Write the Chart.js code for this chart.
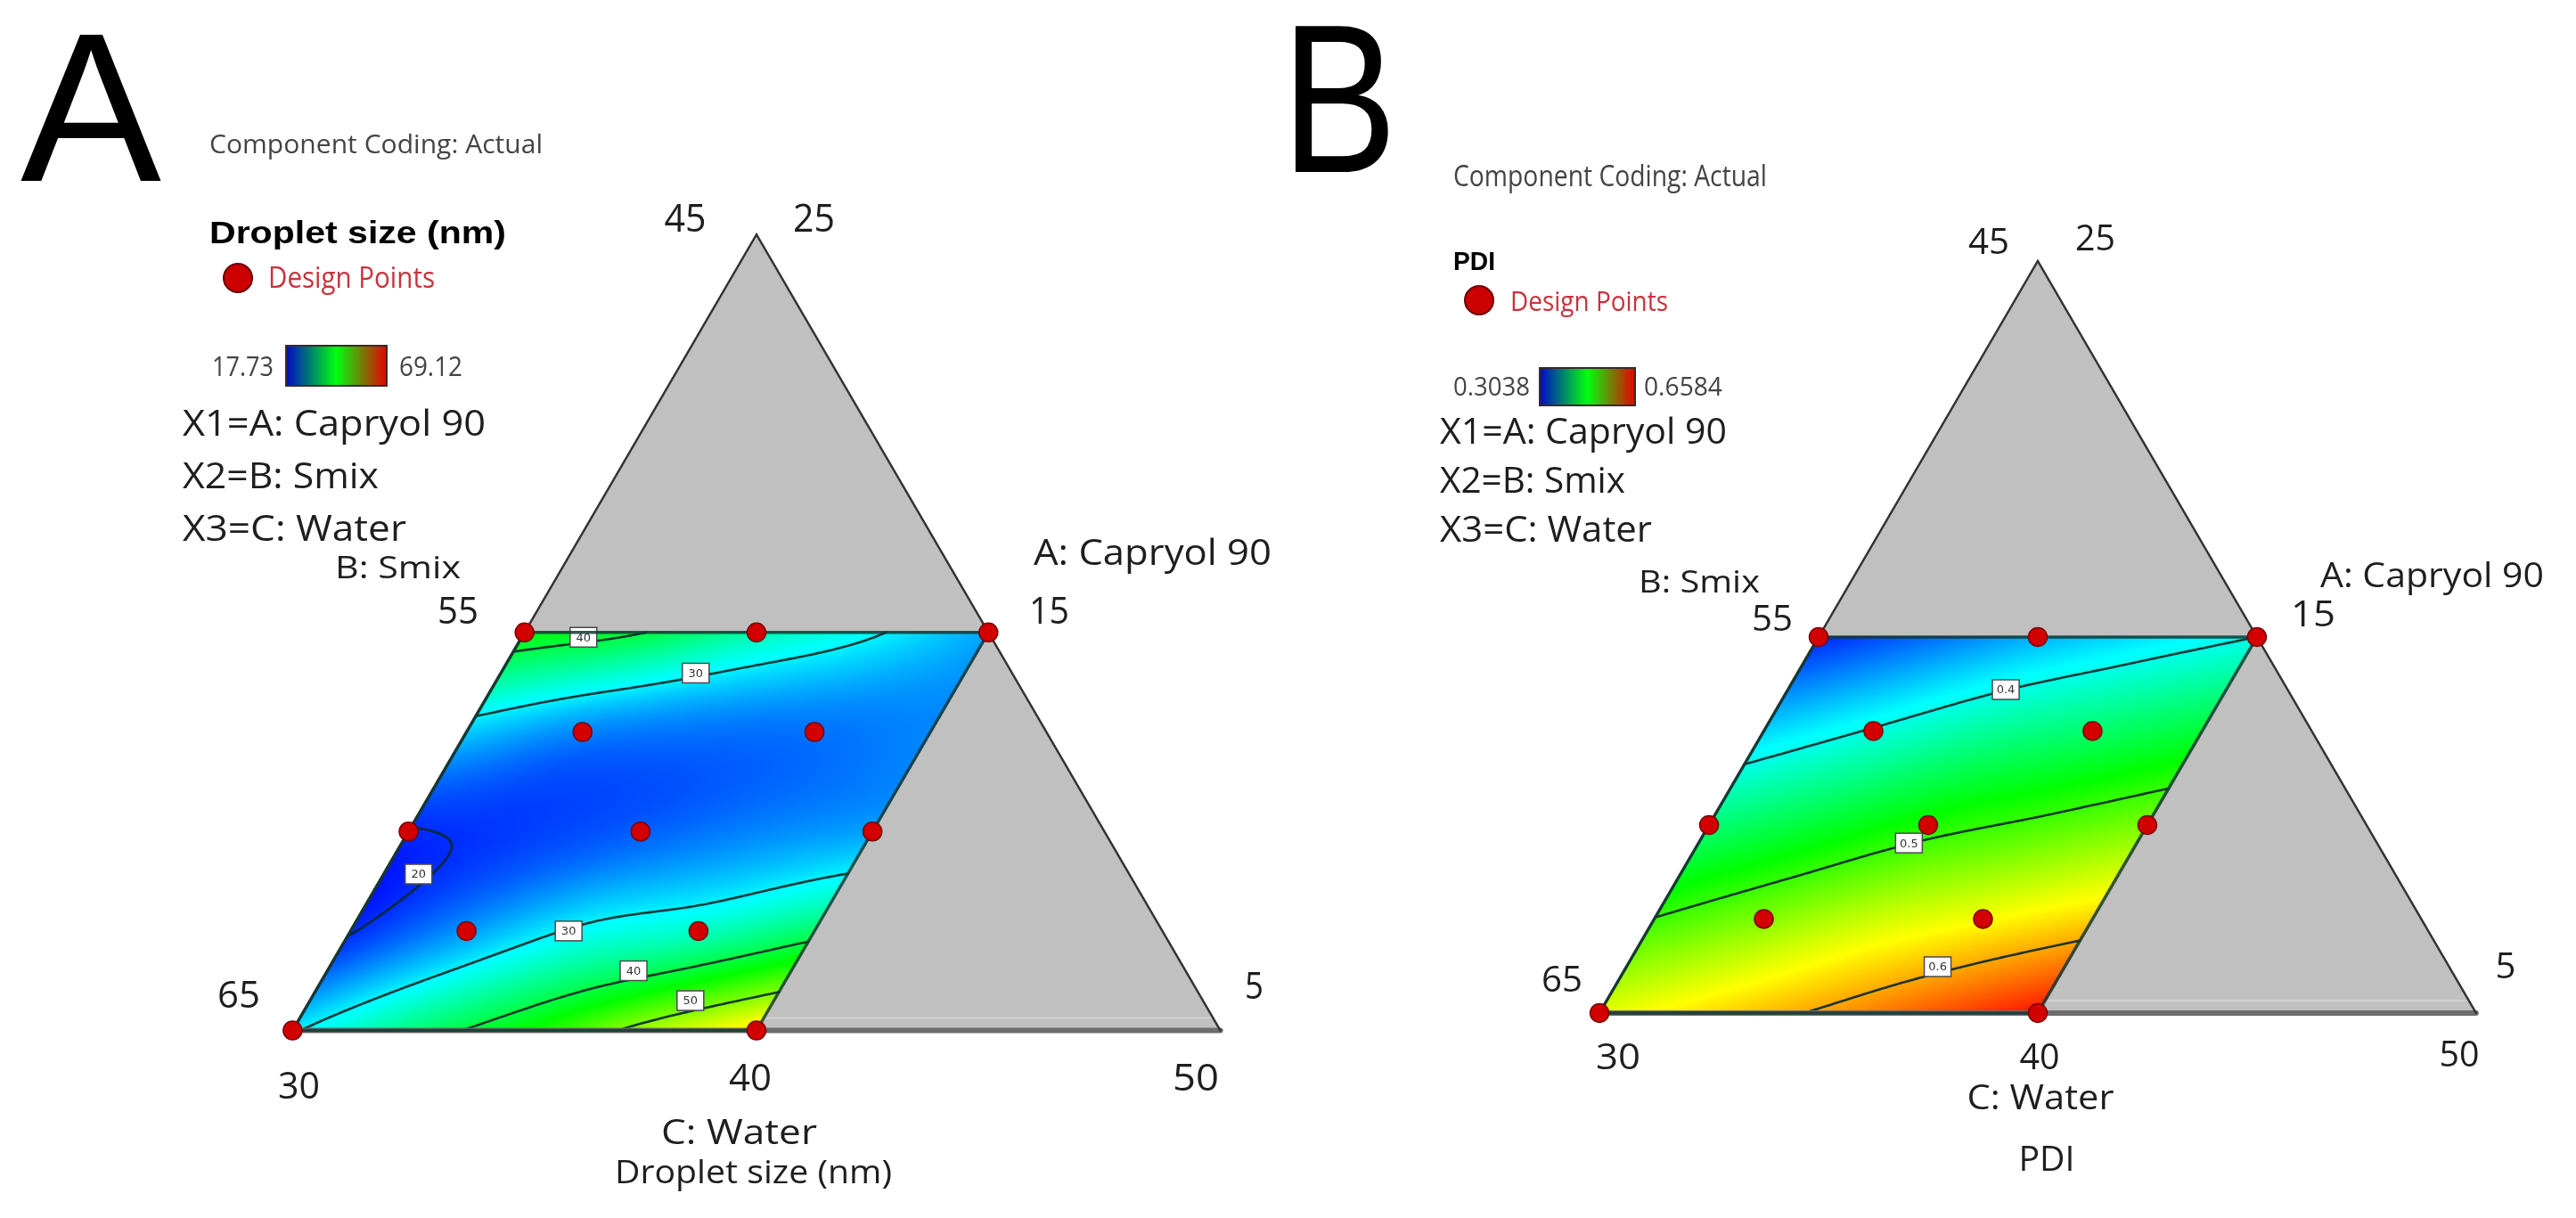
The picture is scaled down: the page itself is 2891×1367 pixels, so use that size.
<!DOCTYPE html>
<html>
<head>
<meta charset="utf-8">
<script src="https://cdn.jsdelivr.net/npm/chart.js@4.4.1/dist/chart.umd.min.js"></script>
<style>
html, body { margin: 0; padding: 0; background: #fff; }
#wrap { position: relative; width: 2891px; height: 1367px; overflow: hidden; background: #fff; }
#wrap canvas { position: absolute; left: 0; top: 0; }
#txt { position: absolute; left: 0; top: 0; }
</style>
</head>
<body>
<div id="wrap">
  <canvas id="chartA" width="2891" height="1367"></canvas>
  <canvas id="chartB" width="2891" height="1367"></canvas>
  <svg id="txt" width="2891" height="1367" xmlns="http://www.w3.org/2000/svg"></svg>
</div>
<script>
// design points (component amounts, %); B: Smix = 100 - A - C
const designCapryol = [15, 15, 15, 12.5, 12.5, 10, 10, 10, 7.5, 7.5, 5, 5];
const designWater   = [30, 35, 40, 32.5, 37.5, 30, 35, 40, 32.5, 37.5, 30, 40];

// response surfaces, rows = A: Capryol 90, cols = C: Water
const gridCapryol = [5, 7.5, 10, 12.5, 15];
const gridWater   = [30, 32.5, 35, 37.5, 40];
const dropletSize = [
    [29.5, 37.0, 43.5, 51.5, 58.0],
    [19.7, 25.5, 30.8, 33.5, 38.2],
    [19.8, 20.8, 22.5, 24.5, 26.0],
    [28.0, 24.5, 23.5, 23.5, 24.5],
    [43.0, 40.2, 34.5, 30.5, 26.0]
];
const pdi = [
    [0.560, 0.582, 0.603, 0.628, 0.652],
    [0.501, 0.526, 0.551, 0.568, 0.585],
    [0.440, 0.464, 0.489, 0.506, 0.524],
    [0.378, 0.4025, 0.427, 0.444, 0.462],
    [0.316, 0.341, 0.365, 0.383, 0.400]
];

// contour levels and where their labels sit (A, C)
const dropletLevels = [20, 30, 40, 50];
const dropletLabels = [
    { A: 14.88, C: 31.33, text: "40" },
    { A: 13.98, C: 34.2, text: "30" },
    { A: 8.93, C: 30.75, text: "20" },
    { A: 7.5, C: 34.7, text: "30" },
    { A: 6.5, C: 36.6, text: "40" },
    { A: 5.75, C: 38.2, text: "50" }
];
const pdiLevels = [0.4, 0.5, 0.6];
const pdiLabels = [
    { A: 13.6, C: 34.97, text: "0.4" },
    { A: 9.52, C: 34.8, text: "0.5" },
    { A: 6.23, C: 37.1, text: "0.6" }
];

const dropletRange = [17.73, 69.12];
const pdiRange = [0.3038, 0.6584];

// axis ticks
const capryolTicks = [25, 15, 5];
const smixTicks = [45, 55, 65];
const waterTicks = [30, 40, 50];

const W = 2891, H = 1367;
const SQ3 = Math.sqrt(3) / 2;

function toXY(A, C) {
    return { x: (C - 30) + (A - 5) / 2, y: (A - 5) * SQ3 };
}

function cubic(p0, p1, p2, p3, t) {
    return p1 + 0.5 * t * (p2 - p0 + t * (2 * p0 - 5 * p1 + 4 * p2 - p3 + t * (3 * (p1 - p2) + p3 - p0)));
}

function at(g, i, j) {
    const n = g.length, m = g[0].length;
    if (i < 0) return 2 * at(g, 0, j) - at(g, 1, j);
    if (i > n - 1) return 2 * at(g, n - 1, j) - at(g, n - 2, j);
    if (j < 0) return 2 * g[i][0] - g[i][1];
    if (j > m - 1) return 2 * g[i][m - 1] - g[i][m - 2];
    return g[i][j];
}

function sample(g, A, C) {
    const fi = (A - gridCapryol[0]) / (gridCapryol[1] - gridCapryol[0]);
    const fj = (C - gridWater[0]) / (gridWater[1] - gridWater[0]);
    const i = Math.max(0, Math.min(g.length - 2, Math.floor(fi)));
    const j = Math.max(0, Math.min(g[0].length - 2, Math.floor(fj)));
    const ti = fi - i, tj = fj - j;
    const r = [];
    for (let di = -1; di <= 2; di++) {
        r.push(cubic(at(g, i + di, j - 1), at(g, i + di, j), at(g, i + di, j + 1), at(g, i + di, j + 2), tj));
    }
    return cubic(r[0], r[1], r[2], r[3], ti);
}

const rampStops = [[0, 0, 255], [0, 255, 255], [0, 255, 0], [255, 255, 0], [255, 0, 0]];
function ramp(t) {
    t = Math.max(0, Math.min(1, t));
    const s = t * 4;
    const k = Math.min(3, Math.floor(s));
    const f = s - k;
    const a = rampStops[k], b = rampStops[k + 1];
    return [a[0] + (b[0] - a[0]) * f, a[1] + (b[1] - a[1]) * f, a[2] + (b[2] - a[2]) * f];
}

function ternaryPlugin(grid, range, levels, labels) {
    return {
        id: "ternary",
        beforeDatasetsDraw(chart) {
            const ctx = chart.ctx;
            const xs = chart.scales.x, ys = chart.scales.y;
            const P = (A, C) => {
                const p = toXY(A, C);
                return [xs.getPixelForValue(p.x), ys.getPixelForValue(p.y)];
            };
            const bl = P(5, 30), br = P(5, 50), top = P(25, 30);
            const q = [P(5, 30), P(5, 40), P(15, 40), P(15, 30)];

            ctx.save();
            // grey simplex
            ctx.beginPath();
            ctx.moveTo(bl[0], bl[1]);
            ctx.lineTo(br[0], br[1]);
            ctx.lineTo(top[0], top[1]);
            ctx.closePath();
            ctx.fillStyle = "#c0c0c0";
            ctx.fill();

            // faint line just above the base
            ctx.beginPath();
            ctx.moveTo(bl[0] + 10, bl[1] - 14);
            ctx.lineTo(br[0] - 10, br[1] - 14);
            ctx.strokeStyle = "#d0d0d0";
            ctx.lineWidth = 2;
            ctx.stroke();

            // colour surface in the constrained region
            const px = q.map(p => p[0]), py = q.map(p => p[1]);
            const x0 = Math.floor(Math.min(...px)) - 1, x1 = Math.ceil(Math.max(...px)) + 1;
            const y0 = Math.floor(Math.min(...py)) - 1, y1 = Math.ceil(Math.max(...py)) + 1;
            const w = x1 - x0, h = y1 - y0;
            const img = ctx.createImageData(w, h);
            for (let yy = 0; yy < h; yy++) {
                const yv = ys.getValueForPixel(y0 + yy + 0.5);
                const A = 5 + yv / SQ3;
                if (A < 4.98 || A > 15.02) continue;
                for (let xx = 0; xx < w; xx++) {
                    const xv = xs.getValueForPixel(x0 + xx + 0.5);
                    const C = 30 + xv - (A - 5) / 2;
                    if (C < 29.97 || C > 40.03) continue;
                    const v = sample(grid, Math.min(15, Math.max(5, A)), Math.min(40, Math.max(30, C)));
                    const c = ramp((v - range[0]) / (range[1] - range[0]));
                    const o = (yy * w + xx) * 4;
                    img.data[o] = c[0];
                    img.data[o + 1] = c[1];
                    img.data[o + 2] = c[2];
                    img.data[o + 3] = 255;
                }
            }
            const off = document.createElement("canvas");
            off.width = w;
            off.height = h;
            off.getContext("2d").putImageData(img, 0, 0);
            ctx.drawImage(off, x0, y0);

            // contour lines (marching squares)
            const N = 160;
            const vals = [];
            for (let i = 0; i <= N; i++) {
                const row = [];
                for (let j = 0; j <= N; j++) row.push(sample(grid, 5 + 10 * i / N, 30 + 10 * j / N));
                vals.push(row);
            }
            ctx.strokeStyle = "rgba(12,40,40,0.92)";
            ctx.lineWidth = 2.6;
            ctx.lineCap = "round";
            levels.forEach(L => {
                ctx.beginPath();
                for (let i = 0; i < N; i++) {
                    for (let j = 0; j < N; j++) {
                        const c = [
                            [i, j, vals[i][j]],
                            [i, j + 1, vals[i][j + 1]],
                            [i + 1, j + 1, vals[i + 1][j + 1]],
                            [i + 1, j, vals[i + 1][j]]
                        ];
                        const pts = [];
                        for (let e = 0; e < 4; e++) {
                            const a = c[e], b = c[(e + 1) % 4];
                            if ((a[2] - L) * (b[2] - L) < 0) {
                                const t = (L - a[2]) / (b[2] - a[2]);
                                const ii = a[0] + (b[0] - a[0]) * t, jj = a[1] + (b[1] - a[1]) * t;
                                pts.push(P(5 + 10 * ii / N, 30 + 10 * jj / N));
                            }
                        }
                        for (let k = 0; k + 1 < pts.length; k += 2) {
                            ctx.moveTo(pts[k][0], pts[k][1]);
                            ctx.lineTo(pts[k + 1][0], pts[k + 1][1]);
                        }
                    }
                }
                ctx.stroke();
            });

            // contour labels
            labels.forEach(lb => {
                const p = P(lb.A, lb.C);
                ctx.fillStyle = "#ffffff";
                ctx.fillRect(p[0] - 15, p[1] - 11, 30, 22);
                ctx.strokeStyle = "#4a4a4a";
                ctx.lineWidth = 1.5;
                ctx.strokeRect(p[0] - 15, p[1] - 11, 30, 22);
                ctx.fillStyle = "#333";
                ctx.font = "13px 'DejaVu Sans'";
                ctx.textAlign = "center";
                ctx.textBaseline = "middle";
                ctx.fillText(lb.text, p[0], p[1] + 1);
            });

            // base line, triangle sides, region outline
            ctx.beginPath();
            ctx.moveTo(bl[0], bl[1]);
            ctx.lineTo(br[0], br[1]);
            ctx.strokeStyle = "#6c6c6c";
            ctx.lineWidth = 6;
            ctx.stroke();

            ctx.beginPath();
            ctx.moveTo(bl[0], bl[1]);
            ctx.lineTo(top[0], top[1]);
            ctx.lineTo(br[0], br[1]);
            ctx.strokeStyle = "#333333";
            ctx.lineWidth = 2.5;
            ctx.lineJoin = "miter";
            ctx.stroke();

            ctx.beginPath();
            ctx.moveTo(q[0][0], q[0][1]);
            for (let k = 1; k < 4; k++) ctx.lineTo(q[k][0], q[k][1]);
            ctx.closePath();
            ctx.strokeStyle = "rgba(20,55,50,0.85)";
            ctx.lineWidth = 3.5;
            ctx.stroke();
            ctx.restore();
        }
    };
}

function buildPanel(id, geo, grid, range, levels, labels) {
    const u = geo.side / 20;
    const points = designCapryol.map((a, i) => toXY(a, designWater[i]));
    return new Chart(document.getElementById(id), {
        type: "scatter",
        data: {
            datasets: [{
                label: "Design Points",
                data: points,
                pointRadius: 10.5,
                pointStyle: "circle",
                backgroundColor: "#d20000",
                borderColor: "#7a0000",
                borderWidth: 1.5
            }]
        },
        options: {
            responsive: false,
            animation: false,
            devicePixelRatio: 1,
            events: [],
            layout: { padding: 0 },
            plugins: { legend: { display: false }, tooltip: { enabled: false }, title: { display: false } },
            scales: {
                x: { type: "linear", display: false, min: -geo.left / u, max: (W - geo.left) / u },
                y: { type: "linear", display: false, min: -(H - geo.bottom) / u, max: geo.bottom / u }
            }
        },
        plugins: [ternaryPlugin(grid, range, levels, labels)]
    });
}

buildPanel("chartA", { left: 319, bottom: 1165, side: 1050 }, dropletSize, dropletRange, dropletLevels, dropletLabels);
buildPanel("chartB", { left: 1798, bottom: 1145, side: 992 }, pdi, pdiRange, pdiLevels, pdiLabels);

// text layer
const svg = document.getElementById("txt");
const NS = "http://www.w3.org/2000/svg";
const SANS = "'Open Sans', 'DejaVu Sans', sans-serif";
const ARIAL = "'Liberation Sans', Arial, sans-serif";

function txt(str, cx, base, w, size, opts) {
    opts = opts || {};
    const t = document.createElementNS(NS, "text");
    t.setAttribute("x", cx);
    t.setAttribute("y", base);
    t.setAttribute("text-anchor", "middle");
    t.setAttribute("font-family", opts.family || SANS);
    t.setAttribute("font-size", size);
    t.setAttribute("font-weight", opts.bold ? "bold" : "normal");
    t.setAttribute("fill", opts.color || "#1e1e1e");
    if (w) {
        t.setAttribute("textLength", w);
        t.setAttribute("lengthAdjust", "spacingAndGlyphs");
    }
    t.textContent = str;
    svg.appendChild(t);
}

function dot(cx, cy) {
    const c = document.createElementNS(NS, "circle");
    c.setAttribute("cx", cx);
    c.setAttribute("cy", cy);
    c.setAttribute("r", 16);
    c.setAttribute("fill", "#cc0000");
    c.setAttribute("stroke", "#6a0000");
    c.setAttribute("stroke-width", 2);
    svg.appendChild(c);
}

function colorBar(x, y, w, h) {
    if (!document.getElementById("rampGrad")) {
        const defs = document.createElementNS(NS, "defs");
        defs.innerHTML = '<linearGradient id="rampGrad" x1="0" x2="1" y1="0" y2="0">' +
            '<stop offset="0" stop-color="#0008c8"/><stop offset="0.5" stop-color="#00ff10"/>' +
            '<stop offset="1" stop-color="#e80000"/></linearGradient>';
        svg.appendChild(defs);
    }
    const r = document.createElementNS(NS, "rect");
    r.setAttribute("x", x);
    r.setAttribute("y", y);
    r.setAttribute("width", w);
    r.setAttribute("height", h);
    r.setAttribute("fill", "url(#rampGrad)");
    r.setAttribute("stroke", "#3a2a2a");
    r.setAttribute("stroke-width", 2);
    svg.appendChild(r);
}

const GREY = "#444", RED = "#c8323c";

// panel A
txt("A", 102, 203, 158, 237, { family: ARIAL, color: "#000" });
txt("Component Coding: Actual", 422, 172, 374, 30, { color: GREY });
txt("Droplet size (nm)", 401.5, 273, 333, 35, { family: ARIAL, bold: true, color: "#000" });
dot(267, 312);
txt("Design Points", 394.5, 323, 187, 32, { color: RED });
txt(String(dropletRange[0]), 272.5, 422, 69, 31, { color: GREY });
colorBar(321, 388, 113, 45);
txt(String(dropletRange[1]), 483.5, 422, 71, 31, { color: GREY });
txt("X1=A: Capryol 90", 375, 489, 340, 41);
txt("X2=B: Smix", 315, 548, 220, 41);
txt("X3=C: Water", 330.5, 607, 251, 41);
txt("B: Smix", 446.5, 649, 141, 35);
txt(String(smixTicks[1]), 514, 700, 46, 42);
txt(String(smixTicks[0]), 769, 260, 47, 43);
txt(String(capryolTicks[0]), 913.5, 260, 47, 43);
txt("A: Capryol 90", 1293.5, 634, 267, 41);
txt(String(capryolTicks[1]), 1177.5, 700, 45, 42);
txt(String(capryolTicks[2]), 1407.5, 1121, 21, 42);
txt(String(smixTicks[2]), 268, 1131, 48, 42);
txt(String(waterTicks[0]), 335.5, 1233, 47, 42);
txt(String(waterTicks[1]), 842, 1224, 48, 42);
txt(String(waterTicks[2]), 1342, 1224, 52, 42);
txt("C: Water", 829.5, 1284, 175, 38);
txt("Droplet size (nm)", 845.5, 1328, 311, 37);

// panel B
txt("B", 1503, 193, 130, 237, { family: ARIAL, color: "#000" });
txt("Component Coding: Actual", 1807, 209, 352, 33, { color: GREY });
txt("PDI", 1654.5, 303, 47, 29, { family: ARIAL, bold: true, color: "#000" });
dot(1660, 337);
txt("Design Points", 1783.5, 349, 177, 31, { color: RED });
txt(String(pdiRange[0]), 1674, 444, 86, 30, { color: GREY });
colorBar(1728, 413, 107, 42);
txt(String(pdiRange[1]), 1889, 444, 88, 30, { color: GREY });
txt("X1=A: Capryol 90", 1777, 498, 322, 41);
txt("X2=B: Smix", 1720, 553, 208, 40);
txt("X3=C: Water", 1735, 608, 238, 40);
txt("B: Smix", 1907, 665, 136, 35);
txt(String(smixTicks[1]), 1989, 708, 46, 40);
txt(String(smixTicks[0]), 2232, 285, 46, 40);
txt(String(capryolTicks[0]), 2351.5, 281, 45, 40);
txt("A: Capryol 90", 2729.5, 659, 251, 39);
txt(String(capryolTicks[1]), 2596, 703, 50, 41);
txt(String(smixTicks[2]), 1753, 1113, 46, 40);
txt(String(capryolTicks[2]), 2812, 1098, 23, 40);
txt(String(waterTicks[0]), 1816, 1200, 50, 41);
txt(String(waterTicks[1]), 2289, 1200, 45, 41);
txt(String(waterTicks[2]), 2760, 1197, 45, 41);
txt("C: Water", 2290, 1245, 165, 39);
txt("PDI", 2297, 1314, 63, 39);
</script>
</body>
</html>
